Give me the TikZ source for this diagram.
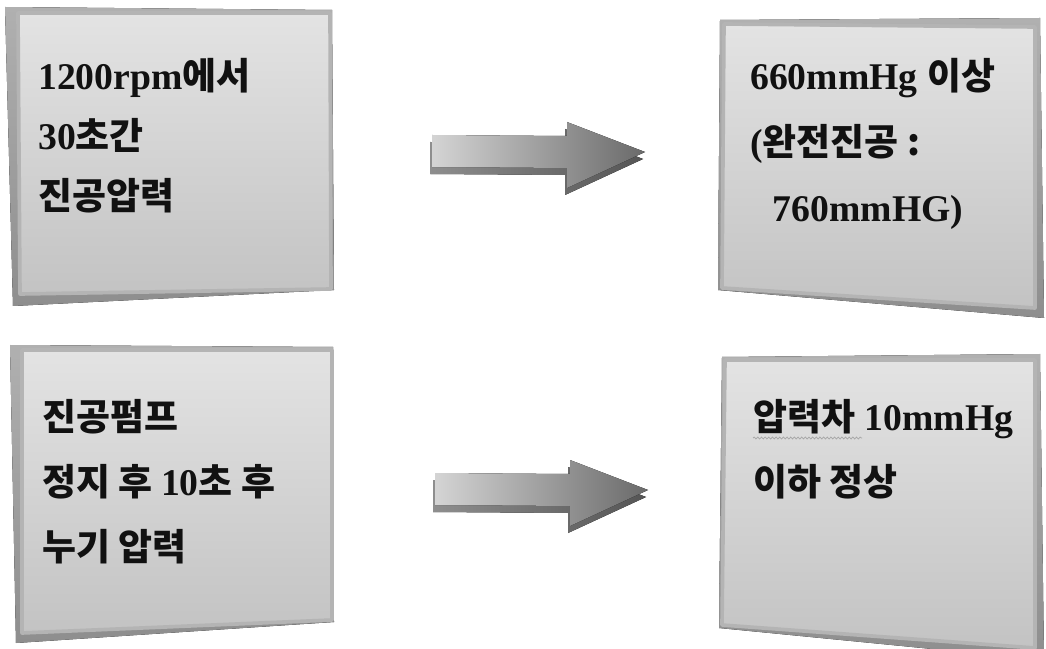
\documentclass[tikz,border=0pt]{standalone}
\usepackage{fontspec}
\setmainfont{Liberation Serif}
\newfontfamily\kofont{Noto Sans CJK KR}[Scale=0.98]
\usetikzlibrary{calc, decorations.pathmorphing}
\newcommand{\ko}[1]{{\kofont #1}}
\definecolor{facetop}{HTML}{E3E3E3}
\definecolor{facebot}{HTML}{C3C3C3}
\definecolor{rim}{HTML}{B4B4B4}
\definecolor{bevellight}{HTML}{B0B0B0}
\definecolor{beveldark}{HTML}{8E8E8E}
\definecolor{arrowlight}{HTML}{D4D4D4}
\definecolor{arrowdark}{HTML}{6A6A6A}
\definecolor{inktext}{HTML}{111111}
\tikzset{
  boxface/.style={top color=facetop, bottom color=facebot, draw=rim, line width=2.6pt, line join=round},
  boxedge/.style={top color=bevellight, bottom color=beveldark, draw=none},
  arrowbody/.style={left color=arrowlight, right color=arrowdark, draw=none},
  arrowedge/.style={left color=beveldark, right color=arrowdark!80!black, draw=none},
  boxtext/.style={anchor=base west, inner sep=0pt, align=left, text=inktext,
    font=\fontsize{26.8}{46.2}\selectfont\bfseries},
  squiggle/.style={decorate, decoration={snake, amplitude=0.7pt, segment length=2.6pt},
    draw=gray!70, line width=0.5pt},
}
% block arrow from shaft start #1 to tip #2, shifted by #3
\newcommand{\arrowpath}[3]{($(#1)+(0,-16)+(#3)$) -- ($(#2)+(-78,-16)+(#3)$)
  -- ($(#2)+(-78,-30)+(#3)$) -- ($(#2)+(#3)$) -- ($(#2)+(-78,36)+(#3)$)
  -- ($(#2)+(-78,16)+(#3)$) -- ($(#1)+(0,16)+(#3)$) -- cycle}

\begin{document}
\begin{tikzpicture}[x=0.025cm, y=-0.025cm]
  \useasboundingbox (0,0) rectangle (1046,649);

  % boxes
  \fill[boxedge] (5,7) -- (332,10) -- (334,290) -- (13,306) -- cycle;
  \path[boxface] (18,13) -- (330,13) -- (331,289) -- (20,294) -- cycle;

  \fill[boxedge] (720,20) -- (1040,18) -- (1044,318) -- (718,290) -- cycle;
  \path[boxface] (724,24) -- (1035,27) -- (1035,308) -- (722,288) -- cycle;

  \fill[boxedge] (10,345) -- (333,347) -- (334,622) -- (16,643) -- cycle;
  \path[boxface] (22,350) -- (332,350) -- (332,620) -- (22,633) -- cycle;

  \fill[boxedge] (722,357) -- (1040,354) -- (1044,660) -- (719,628) -- cycle;
  \path[boxface] (725,360) -- (1035,360) -- (1035,648) -- (722,625) -- cycle;

  % texts (anchored at the baseline of the last line)
  \node[boxtext, font=\fontsize{26.8}{42.7}\selectfont\bfseries] (rpmtest) at (38,210)
    {1200rpm\ko{에서}\\30\ko{초간}\\\ko{진공압력}};
  \node[boxtext, font=\fontsize{26.8}{47}\selectfont\bfseries] (vacspec) at (750,222)
    {660mmHg \ko{이상}\\(\ko{완전진공 :}\\\hspace*{16pt}760mmHG)};
  \node[boxtext] (leaktest) at (42,560)
    {\ko{진공펌프}\\\ko{정지 후 }10\ko{초 후}\\\ko{누기 압력}};
  \node[boxtext] (leakspec) at (753,495)
    {\ko{압력차} 10mmHg\\\ko{이하 정상}};
  \draw[squiggle] ($(leakspec.base west)+(0,-57)$) -- ++(109,0);

  % arrows
  \coordinate (upstart) at (432,151);
  \coordinate (uptip) at (645,152);
  \coordinate (lowstart) at (435,489);
  \coordinate (lowtip) at (648,490);
  \fill[arrowedge] \arrowpath{upstart}{uptip}{-2,7};
  \fill[arrowbody] \arrowpath{upstart}{uptip}{0,0};
  \fill[arrowedge] \arrowpath{lowstart}{lowtip}{-2,7};
  \fill[arrowbody] \arrowpath{lowstart}{lowtip}{0,0};
\end{tikzpicture}
\end{document}
